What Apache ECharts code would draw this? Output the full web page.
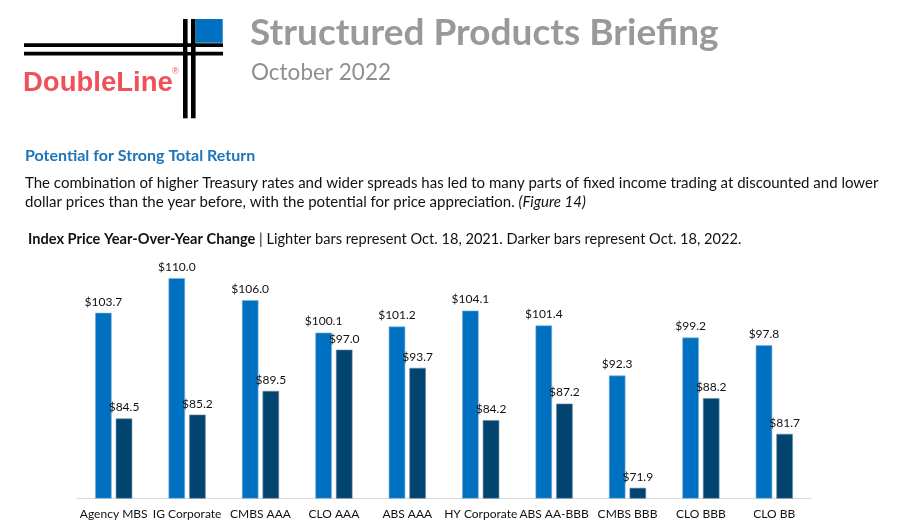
<!DOCTYPE html>
<html><head><meta charset="utf-8">
<script src="https://cdn.jsdelivr.net/npm/echarts@6/dist/echarts.min.js"></script>
<style>html,body{margin:0;padding:0;background:#fff}#c{width:903px;height:528px}</style>
</head><body><div id="c"></div>
<script>
const categories = ['Agency MBS','IG Corporate','CMBS AAA','CLO AAA','ABS AAA','HY Corporate','ABS AA-BBB','CMBS BBB','CLO BBB','CLO BB'];
const prices2021 = [103.7,110.0,106.0,100.1,101.2,104.1,101.4,92.3,99.2,97.8];
const prices2022 = [84.5,85.2,89.5,97.0,93.7,84.2,87.2,71.9,88.2,81.7];

const FONT = 'Lato, "Open Sans", sans-serif';
const chart = echarts.init(document.getElementById('c'), null, {renderer:'canvas'});
const lbl = {show:true, position:'top', distance:5, color:'#111', fontSize:12, fontFamily:FONT,
  formatter: p => '$' + p.value.toFixed(1)};
chart.setOption({
  animation:false,
  grid:{left:77, right:92, top:250.6, bottom:29.7, containLabel:false},
  xAxis:{type:'category', data:categories,
    axisLine:{lineStyle:{color:'#d9d9d9', width:1}}, axisTick:{show:false},
    axisLabel:{color:'#111', fontSize:12, fontFamily:FONT, margin:10, interval:0}},
  yAxis:{type:'value', min:70, max:115, show:false, splitLine:{show:false}},
  series:[
    {type:'bar', data:prices2021, barWidth:16.5, barGap:'25%',
      itemStyle:{color:'#0070C0', borderColor:'#7fb0dc', borderWidth:0.6}, label:lbl},
    {type:'bar', data:prices2022, barWidth:16.5,
      itemStyle:{color:'#00446F', borderColor:'#6f8aa3', borderWidth:0.6}, label:lbl}
  ],
  graphic:[
    {type:'rect', shape:{x:24,y:43.3,width:199,height:3.6}, style:{fill:'#000'}},
    {type:'rect', shape:{x:24,y:51.8,width:199,height:3.8}, style:{fill:'#000'}},
    {type:'rect', shape:{x:183,y:19,width:4.6,height:99.3}, style:{fill:'#000'}},
    {type:'rect', shape:{x:191,y:19,width:4.6,height:99.3}, style:{fill:'#000'}},
    {type:'rect', shape:{x:195.6,y:19,width:27.1,height:23.8}, style:{fill:'#0070C0'}},
    {type:'rect', shape:{x:187.6,y:46.9,width:3.4,height:4.9}, style:{fill:'#fff'}},
    {type:'text', style:{text:'DoubleLine', x:23, y:83, fill:'#F0505A', font:'bold 27.5px "Liberation Sans", Arial, sans-serif', verticalAlign:'middle'}},
    {type:'text', style:{text:'®', x:172, y:72, fill:'#F0505A', font:'9px "Liberation Sans", Arial, sans-serif', verticalAlign:'middle'}},
    {type:'text', style:{text:'Structured Products Briefing', x:250, y:33, fill:'#999', font:'bold 37px '+FONT, verticalAlign:'middle'}},
    {type:'text', style:{text:'October 2022', x:251, y:73, fill:'#8f8f8f', font:'22.5px '+FONT, verticalAlign:'middle'}},
    {type:'text', style:{text:'Potential for Strong Total Return', x:25, y:156, fill:'#1F73B7', font:'bold 16px '+FONT, verticalAlign:'middle'}},
    {type:'text', style:{text:'The combination of higher Treasury rates and wider spreads has led to many parts of fixed income trading at discounted and lower', x:25, y:183, fill:'#111', font:'15px '+FONT, verticalAlign:'middle'}},
    {type:'text', style:{text:'dollar prices than the year before, with the potential for price appreciation. {i|(Figure 14)}', x:25, y:202, fill:'#111', font:'15px '+FONT, verticalAlign:'middle',
      rich:{i:{fontStyle:'italic', fontSize:15, fontFamily:FONT, fill:'#111'}}}},
    {type:'text', style:{text:'{b|Index Price Year-Over-Year Change} | Lighter bars represent Oct. 18, 2021. Darker bars represent Oct. 18, 2022.', x:28, y:239, fill:'#111', font:'14.6px '+FONT, verticalAlign:'middle',
      rich:{b:{fontWeight:'bold', fontSize:14.6, fontFamily:FONT, fill:'#111'}}}}
  ]
});
</script></body></html>
